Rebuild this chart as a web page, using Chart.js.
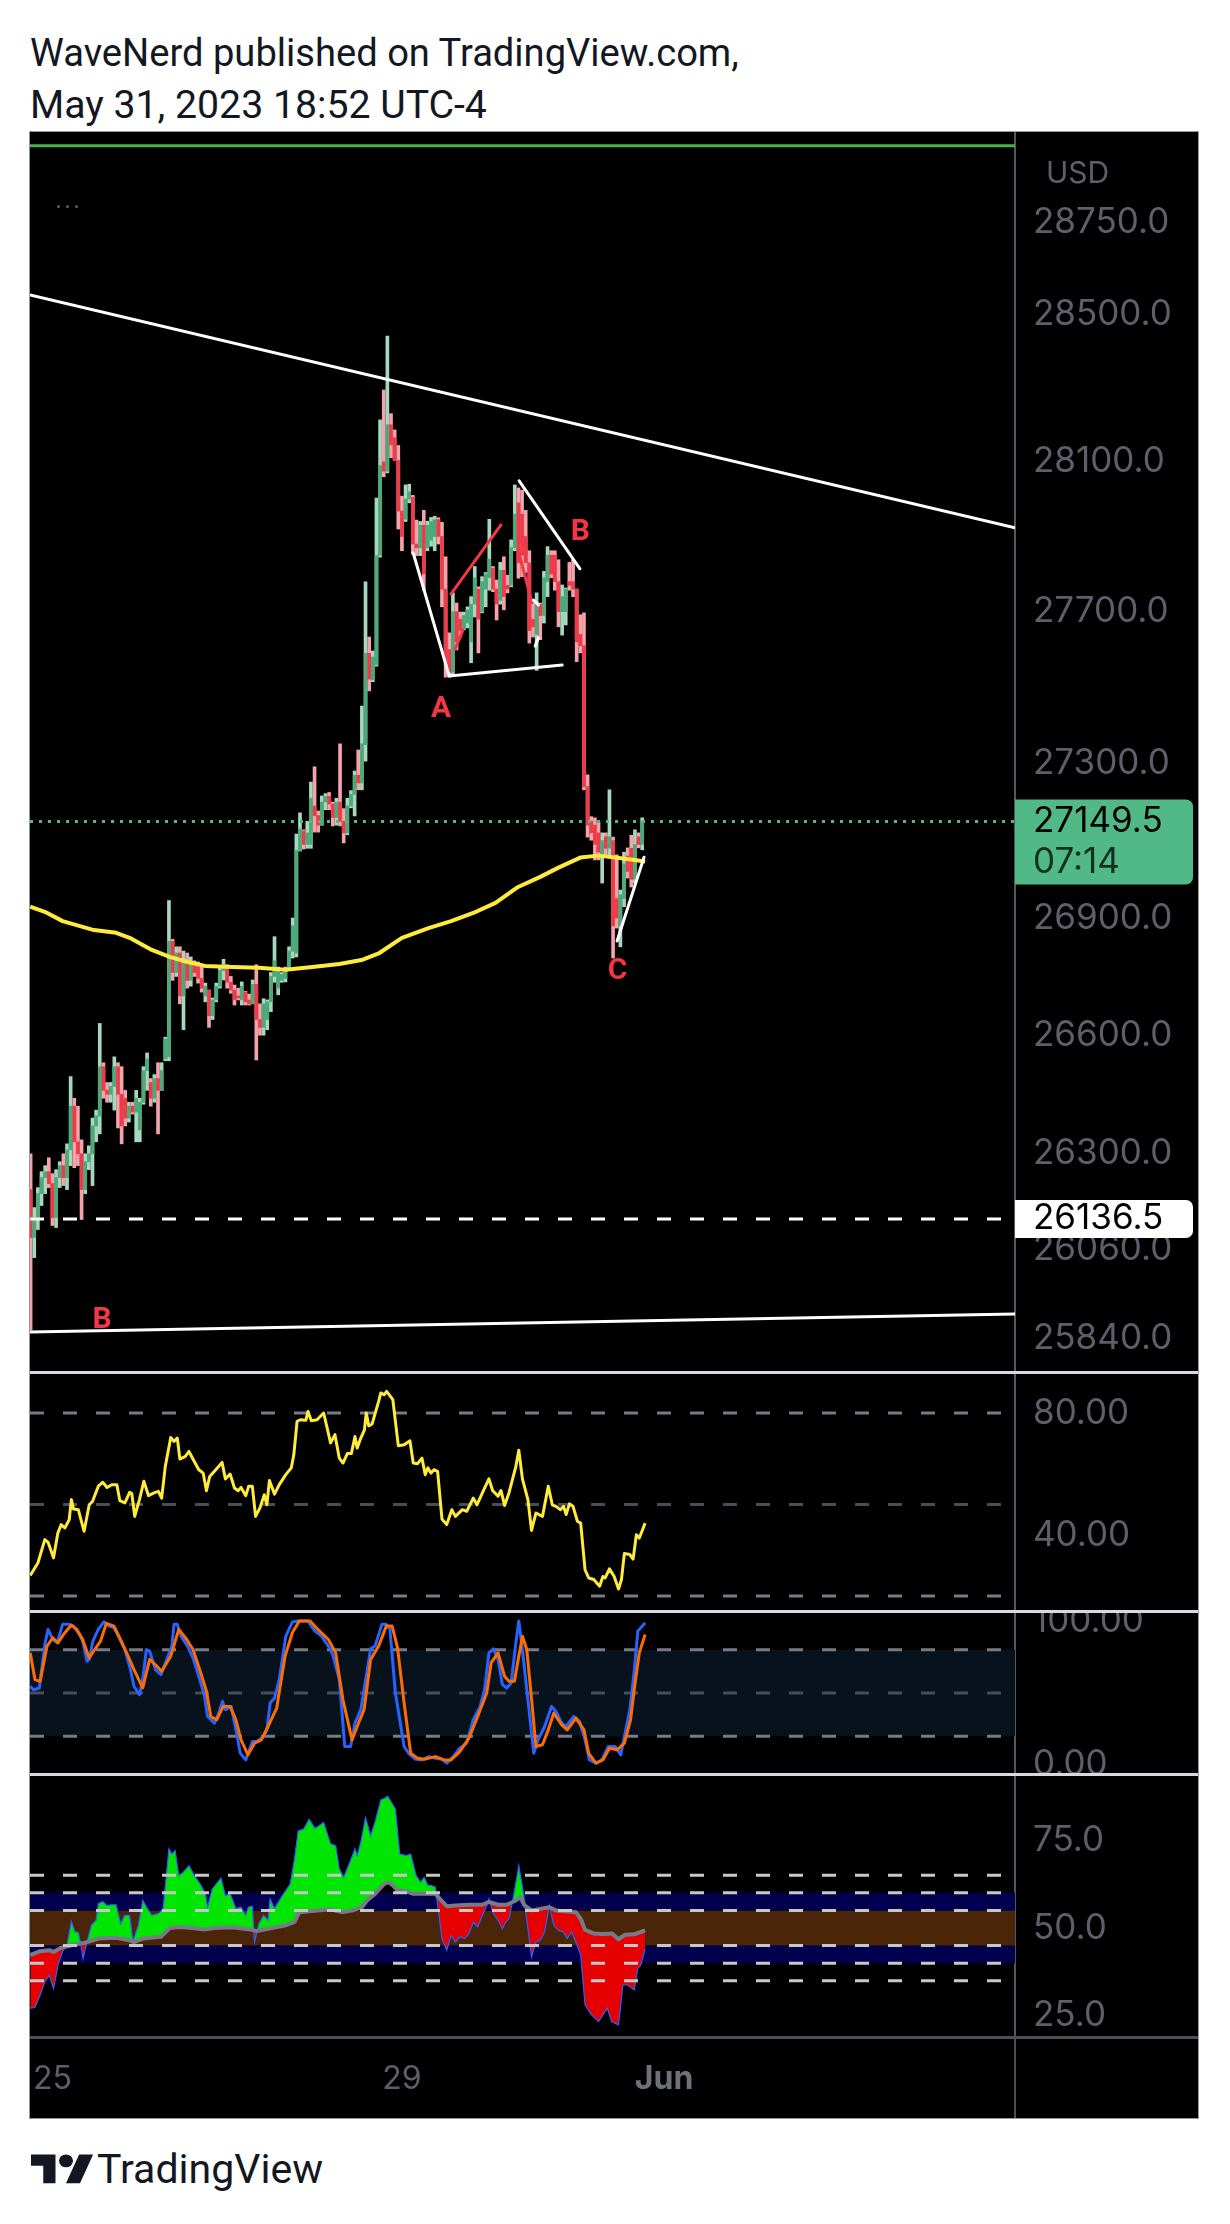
<!DOCTYPE html>
<html>
<head>
<meta charset="utf-8">
<title>BTCUSD 1h - WaveNerd</title>
<script src="https://cdn.jsdelivr.net/npm/chart.js@4.4.0/dist/chart.umd.min.js"></script>
<style>
  html, body { margin:0; padding:0; background:#fff; }
  body { width:1230px; height:2224px; position:relative; overflow:hidden; font-family:Roboto, sans-serif; color:#131722; }
  .hdr { position:absolute; left:30px; font-size:35px; line-height:40px; white-space:nowrap; }
  #frame { position:absolute; left:30px; top:132px; width:1168px; height:1986px; background:#d6d9e0; outline:1px solid #9598a1; }
  #frame canvas { position:absolute; left:0; background:#000; }
  #usd { position:absolute; left:1016px; top:22px; font:30px Inter, sans-serif; line-height:36px; color:#5d606b; }
  #dots { position:absolute; left:27px; top:61px; }
  #dots span { display:inline-block; width:3px; height:3px; border-radius:2px; background:#5d606b; margin-right:6px; }
  #logo { position:absolute; left:31px; top:2146px; height:46px; }
  #logo svg { position:absolute; left:0; top:2px; }
  #logo div { position:absolute; left:66px; top:0; font-size:39px; line-height:46px; white-space:nowrap; color:#131722; }
</style>
</head>
<body>
<div class="hdr" id="h1" style="top:33px">WaveNerd published on TradingView.com,</div>
<div class="hdr" id="h2" style="top:85px">May 31, 2023 18:52 UTC-4</div>

<div id="frame">
  <canvas id="cPrice" width="1168" height="1239" style="top:0"></canvas>
  <canvas id="cRsi" width="1168" height="236" style="top:1242px"></canvas>
  <canvas id="cStoch" width="1168" height="160" style="top:1481px"></canvas>
  <canvas id="cOsc" width="1168" height="342" style="top:1644px"></canvas>
  <div id="usd">USD</div>
  <div id="dots"><span></span><span></span><span></span></div>
</div>

<div id="logo">
  <svg width="63" height="45" viewBox="0 0 36 28" preserveAspectRatio="none">
    <path fill="#131722" d="M14 22H7V11H0V4h14v18zM28 22h-8l7.5-18h8L28 22z"/>
    <circle fill="#131722" cx="20" cy="8" r="4"/>
  </svg>
  <div id="tvtext">TradingView</div>
</div>

<script>
// BTCUSD 1h candles, index 0 = May 24 18:00 ... 168 = May 31 18:00 (UTC-4)
const opens = [
  26210,26090,26140,26200,26240,26255,26225,26140,26240,26270,
  26240,26310,26420,26330,26300,26210,26280,26300,26370,26395,
  26520,26460,26450,26470,26520,26450,26440,26390,26420,26405,
  26360,26430,26510,26480,26440,26490,26460,26540,26545,26840,
  26760,26810,26700,26790,26740,26780,26780,26745,26700,26715,
  26650,26690,26725,26765,26780,26735,26715,26700,26690,26710,
  26690,26680,26730,26640,26620,26640,26685,26750,26720,26740,
  26745,26770,26815,26810,27075,27125,27090,27090,27190,27165,
  27140,27200,27215,27195,27160,27200,27150,27120,27190,27220,
  27270,27250,27350,27590,27520,27560,27850,28100,28075,28200,
  28165,28104,27968,27946,28000,28005,27880,27870,27930,27870,
  27890,27900,27945,27900,27760,27600,27540,27700,27680,27655,
  27670,27620,27720,27760,27700,27760,27790,27815,27760,27730,
  27810,27770,27770,27870,27990,27960,27900,27830,27680,27640,
  27720,27690,27780,27850,27850,27780,27700,27700,27780,27780,
  27760,27640,27610,27240,27150,27140,27120,27060,27110,27080,
  27100,26950,26880,26950,27060,27080,27000,27110,27090
];
const highs = [
  26300,26165,26215,26255,26270,26290,26250,26260,26280,26300,
  26325,26495,26440,26420,26335,26300,26320,26390,26410,26630,
  26530,26480,26480,26545,26530,26520,26460,26430,26430,26460,
  26440,26520,26555,26490,26500,26530,26530,26595,26945,26845,
  26826,26826,26815,26810,26800,26790,26787,26776,26733,26715,
  26695,26733,26776,26794,26780,26750,26728,26720,26736,26712,
  26705,26741,26780,26680,26693,26690,26760,26852,26774,26760,
  26774,26826,26900,27117,27172,27128,27150,27252,27292,27177,
  27216,27222,27225,27200,27210,27352,27183,27210,27230,27281,
  27336,27451,27779,27633,27596,28003,28213,28294,28440,28230,
  28186,28144,28008,28038,28040,28010,27944,27940,27970,27941,
  27951,27954,27950,27938,27846,27644,27750,27723,27699,27699,
  27713,27740,27820,27766,27793,27804,27946,27820,27784,27831,
  27846,27797,27891,28038,28030,28024,27970,27862,27731,27750,
  27723,27807,27873,27862,27862,27838,27771,27763,27831,27838,
  27760,27692,27697,27271,27162,27159,27149,27120,27120,27232,
  27109,27063,26972,27070,27081,27114,27128,27120,27159
];
const lows = [
  25860,26040,26110,26170,26200,26215,26120,26115,26215,26220,
  26210,26270,26265,26270,26135,26200,26260,26220,26330,26350,
  26440,26430,26430,26410,26365,26325,26370,26380,26400,26330,
  26330,26425,26460,26420,26430,26350,26460,26535,26535,26740,
  26750,26680,26614,26720,26725,26750,26733,26710,26685,26620,
  26640,26685,26720,26741,26720,26707,26677,26690,26677,26677,
  26677,26680,26537,26600,26600,26614,26660,26735,26703,26735,
  26736,26767,26797,26800,27073,27078,27080,27080,27122,27122,
  27140,27180,27180,27138,27140,27138,27094,27115,27185,27164,
  27232,27232,27307,27491,27515,27556,27845,28060,28070,28111,
  28104,27920,27862,27940,27990,27853,27849,27849,27757,27862,
  27874,27862,27880,27713,27527,27527,27532,27599,27633,27652,
  27657,27565,27686,27591,27697,27713,27757,27753,27678,27720,
  27705,27750,27766,27862,27789,27793,27804,27617,27633,27545,
  27626,27670,27740,27790,27757,27660,27638,27665,27757,27740,
  27568,27591,27232,27109,27101,27050,27050,26990,27058,27058,
  26797,26874,26826,26929,27003,26980,26990,27081,27076
];
const closes = [
  26090,26140,26200,26240,26255,26225,26140,26240,26270,26240,
  26310,26420,26330,26300,26210,26280,26300,26370,26395,26520,
  26460,26450,26470,26520,26450,26370,26390,26420,26405,26440,
  26430,26510,26540,26440,26490,26460,26510,26590,26840,26760,
  26810,26700,26790,26740,26780,26760,26745,26720,26725,26650,
  26690,26725,26765,26780,26735,26715,26690,26695,26725,26685,
  26680,26730,26640,26620,26680,26685,26750,26790,26765,26755,
  26770,26815,26880,27075,27130,27090,27120,27210,27165,27140,
  27200,27215,27195,27160,27200,27150,27120,27190,27220,27270,
  27250,27352,27590,27522,27580,27849,28090,28075,28200,28146,
  28104,27968,27900,28000,28020,27880,27870,27930,27800,27930,
  27940,27945,27900,27760,27560,27540,27700,27620,27650,27690,
  27705,27720,27790,27680,27780,27800,27840,27760,27720,27810,
  27740,27760,27870,27960,27830,27850,27830,27650,27660,27720,
  27690,27790,27850,27800,27780,27700,27740,27760,27770,27760,
  27620,27610,27240,27140,27120,27090,27070,27100,27080,27110,
  26880,26900,26960,27040,27020,27000,27090,27090,27149.5
];

// moving average: [bar index, price]
const maPts = [
  [-0.1,26929],[3.9,26916],[8.8,26892],[17.4,26869],[23.5,26862],[27.2,26849],[33.3,26818],
  [38.2,26800],[43.1,26787],[47.9,26777],[55.3,26774],[62.7,26772],[70,26767],[77.4,26774],
  [84.8,26782],[90.9,26792],[95.8,26810],[102,26849],[109.3,26874],[115.5,26892],[121.6,26913],
  [127.7,26939],[133.9,26980],[140,27006],[145,27030],[151,27056],[156,27061],[163.4,27053],[168.8,27046]
];

// drawings on the price pane: [bar index, price]
const trendUpper = [[-0.165,28552],[270.4,27923]];
const trendLower = [[-0.165,25855],[270.4,25900]];
const topLinePrice = 28963;
const wavesWhite = [
  [[105.1,27856],[115.0,27530],[146.0,27559]],
  [[134.2,28049],[150.9,27814]],
  [[138.1,27731],[139.5,27718]],
  [[138.6,27609],[139.5,27631]],
  [[161.1,26841],[168.5,27057]]
];
const wavesRed = [
  [[115.5,27747],[129.2,27931]],
  [[116.6,27601],[118.8,27652]],
  [[133.9,27865],[137.7,27724]]
];
const waveLabels = [
  {t:'A', i:112.75, p:27441},
  {t:'B', i:151.0, p:27910},
  {t:'C', i:161.2, p:26763},
  {t:'B', i:19.6, p:25885}
];
const lastPrice = 27149.5;
const countdown = '07:14';
const levelPrice = 26136.5;
const priceTicks = [28750, 28500, 28100, 27700, 27300, 26900, 26600, 26300, 26060, 25840];

// RSI pane
const rsiPts = [
  [-0.1,26.7],[2.0,30.8],[3.9,38.5],[4.8,37.6],[6.3,32.5],[7.5,40.7],[8.4,43.4],[9.4,42.3],[10.6,45.0],
  [11.2,51.6],[11.8,48.5],[13.1,48.3],[14.7,41.2],[16.1,49.9],[17.0,51.0],[18.6,56.0],[19.8,57.3],
  [21.0,55.6],[22.3,56.5],[23.7,56.5],[24.5,51.3],[25.9,50.5],[27.2,54.0],[27.8,53.6],[28.6,46.1],
  [29.9,51.6],[31.1,57.6],[32.4,52.9],[33.9,53.8],[35.1,54.3],[36.0,52.1],[37.0,62.5],[38.5,72.0],
  [39.4,70.7],[40.3,71.8],[41.0,64.9],[42.5,65.8],[43.5,67.4],[44.7,64.7],[46.2,61.4],[47.4,60.3],
  [48.3,54.5],[49.2,59.2],[50.5,60.9],[52.6,63.8],[53.5,58.4],[54.8,60.0],[56.0,55.4],[57.0,54.5],
  [57.8,55.6],[59.1,52.9],[59.9,56.0],[60.9,56.0],[61.8,46.1],[63.0,48.9],[64.2,53.2],[64.9,49.9],
  [65.6,57.9],[67.0,53.4],[68.3,56.5],[70.1,59.8],[71.6,62.0],[72.3,66.3],[73.2,77.3],[74.1,77.8],
  [75.6,77.6],[76.2,80.5],[77.1,77.5],[78.7,77.8],[80.5,80.0],[82.4,70.2],[83.6,72.9],[84.8,65.2],
  [85.8,63.6],[87.0,66.7],[88.1,66.7],[89.1,72.3],[89.7,68.5],[90.7,71.8],[91.7,74.5],[92.2,80.0],
  [92.9,75.8],[93.8,76.4],[95.6,83.8],[96.2,86.6],[97.1,86.0],[97.8,87.1],[99.5,84.4],[101.0,69.3],
  [102.6,69.6],[104.2,70.9],[105.1,63.6],[106.3,63.4],[107.5,65.2],[108.4,59.8],[109.1,62.0],
  [110.0,60.3],[110.8,61.4],[111.8,60.9],[113.0,45.2],[114.3,43.4],[115.7,48.3],[116.7,46.1],
  [118.6,48.3],[119.8,47.8],[121.6,52.1],[122.6,49.9],[124.7,55.4],[125.9,58.4],[126.9,54.6],
  [128.4,52.7],[129.2,54.6],[130.2,49.7],[131.4,53.8],[133.3,62.5],[134.1,67.8],[135.1,58.4],
  [136.6,51.6],[137.6,41.5],[138.8,47.2],[140.6,46.1],[142.2,56.0],[143.3,49.9],[144.3,49.4],
  [145.5,48.3],[146.4,49.4],[147.1,46.7],[148.0,50.2],[149.0,49.4],[150.2,44.5],[151.1,43.9],
  [152.3,28.6],[153.3,25.9],[154.7,25.4],[156.3,23.2],[157.2,26.4],[157.8,25.9],[159.0,28.9],
  [160.3,26.4],[161.5,22.3],[162.3,25.4],[163.1,33.9],[164.6,33.6],[165.5,32.1],[166.4,40.1],
  [167.2,39.0],[168.8,43.9]
];
const rsiLevels = [80, 50, 20];
const rsiTicks = [80, 40];

// Stoch RSI pane
const stochK = [
  [-0.1,54.7],[0.8,52.3],[2.4,53.5],[3.9,83.7],[4.8,94.2],[6.1,87.2],[7.3,84.9],[8.8,97.7],[10.6,97.7],
  [11.8,96.5],[13.4,90.7],[14.3,86.0],[15.5,72.1],[16.1,73.3],[17.1,86.0],[18.6,94.2],[20.1,99.5],
  [21.6,96.5],[22.9,95.3],[24.1,89.5],[25.9,80.2],[27.2,68.6],[28.4,54.7],[29.9,48.8],[30.8,59.3],
  [31.8,80.2],[32.7,79.1],[34.3,66.3],[35.8,62.8],[37.6,74.4],[38.8,82.6],[39.4,97.7],[40.3,97.7],
  [41.3,89.5],[43.1,82.6],[44.6,74.4],[46.2,61.6],[47.8,47.7],[48.6,33.7],[50.5,29.1],[51.7,36.0],
  [52.7,44.2],[53.5,38.4],[55.1,40.7],[56.4,24.4],[57.6,8.1],[59.1,3.5],[60.9,16.3],[62.1,16.3],
  [64.0,19.8],[64.9,24.4],[65.8,43.0],[67.0,46.5],[68.3,59.3],[70.1,89.5],[71.9,99.3],[73.2,100],
  [76.2,100],[78.1,93.0],[79.9,89.5],[81.8,82.6],[83.0,76.7],[84.8,59.3],[86.3,12.8],[87.9,12.8],
  [89.1,29.1],[90.7,38.4],[92.2,61.6],[93.4,80.7],[94.6,82.6],[96.5,97.7],[97.7,97.7],[98.7,94.2],
  [100.2,50.0],[101.4,31.4],[102.6,12.8],[103.8,8.1],[105.7,4.0],[107.5,3.5],[109.4,5.8],[111.2,4.7],
  [113.0,4.0],[114.3,1.2],[116.1,5.8],[117.9,11.6],[119.8,15.1],[121.6,31.4],[123.5,40.7],[124.7,52.3],
  [125.9,77.9],[127.1,80.7],[128.4,73.3],[129.6,55.8],[130.8,53.5],[132.0,57.0],[133.3,84.9],[134.1,100],
  [135.1,79.8],[136.9,38.4],[138.2,8.1],[139.4,17.4],[141.2,26.7],[143.1,40.7],[144.3,37.2],[145.9,29.1],
  [147.1,26.7],[149.2,33.7],[150.8,30.2],[152.3,17.4],[153.5,3.5],[155.3,1.2],[156.9,3.5],[158.7,12.8],
  [160.6,12.8],[162.1,7.0],[163.3,22.1],[164.6,38.4],[165.8,65.1],[166.8,93.0],[168.8,98.8]
];
const stochD = [
  [-0.1,77.9],[1.2,59.3],[2.6,58.1],[4.5,82.6],[6.1,88.4],[7.5,84.9],[9.4,91.9],[11.2,97.2],[12.7,94.2],
  [14.3,87.2],[16.1,74.4],[17.6,80.2],[19.2,86.0],[20.8,98.4],[22.9,96.5],[24.7,87.2],[26.6,76.7],
  [28.4,66.3],[30.8,53.5],[32.7,73.3],[34.2,69.8],[36.0,65.1],[38.5,75.6],[40.7,94.2],[42.9,87.2],
  [44.6,80.2],[46.6,65.1],[48.3,51.2],[49.5,33.7],[51.1,31.4],[52.9,40.7],[54.8,40.7],[56.4,31.4],
  [57.8,17.4],[59.7,7.0],[61.5,15.1],[63.4,17.4],[65.2,26.7],[67.6,39.5],[69.9,75.6],[71.9,91.9],
  [73.8,100],[76.8,100],[78.9,94.2],[81.8,87.2],[83.8,77.9],[85.8,45.3],[88.3,17.4],[89.7,26.7],
  [91.6,38.4],[93.4,73.3],[95.6,82.6],[97.7,96.5],[99.3,96.5],[100.8,81.4],[102.6,43.0],[104.4,8.1],
  [106.3,4.7],[108.1,4.0],[111.2,5.8],[113.6,3.5],[115.5,3.5],[117.9,9.3],[120.4,18.6],[122.8,33.7],
  [125.3,50.0],[126.5,70.9],[128.4,77.9],[130.2,61.6],[131.4,58.1],[132.9,58.1],[134.1,75.6],
  [135.1,89.5],[136.3,80.2],[137.8,40.7],[138.8,12.8],[140.6,14.0],[142.2,24.4],[143.7,36.0],
  [145.9,27.9],[147.4,24.4],[149.8,32.6],[152.0,24.4],[153.3,8.1],[155.3,1.2],[157.2,3.5],[159.0,11.6],
  [161.1,10.5],[163.1,15.1],[164.8,31.4],[165.8,52.3],[167.2,77.9],[168.8,90.7]
];
const stochLevels = [80, 50, 20];
const stochTicks = [100, 0];

// bottom oscillator pane and its signal line
const oscPts = [
  [-0.1,27.2],[1.2,27.4],[2.6,30.9],[3.9,34.7],[5.1,36.6],[6.3,32.8],[7.5,39.4],[8.8,43.4],[10.0,45.1],
  [11.2,51.9],[12.2,48.9],[13.1,48.7],[13.7,46.0],[14.4,41.3],[15.5,46.0],[16.7,50.8],[18.0,52.2],
  [18.6,56.9],[19.8,57.5],[21.0,56.4],[22.3,56.6],[23.5,56.6],[24.7,51.2],[25.9,53.6],[27.2,53.6],
  [28.1,46.2],[29.6,50.8],[30.8,57.8],[32.1,55.5],[33.3,53.6],[35.1,54.1],[36.4,55.5],[38.0,72.5],
  [38.8,71.0],[39.7,72.0],[40.7,64.9],[41.9,65.8],[43.5,67.7],[45.0,64.9],[46.8,62.1],[48.0,59.7],
  [48.6,55.9],[49.9,61.1],[52.3,64.2],[53.5,59.2],[54.8,59.7],[56.4,55.5],[57.8,55.9],[59.1,53.6],
  [59.8,55.9],[60.9,56.2],[61.5,46.0],[62.7,51.2],[64.0,53.6],[65.2,52.2],[65.8,58.3],[67.0,55.5],
  [68.9,58.8],[71.3,62.5],[72.5,69.6],[73.5,77.6],[75.0,78.1],[76.5,80.9],[78.1,78.3],[80.5,80.0],
  [82.4,73.9],[83.8,73.4],[84.8,66.8],[86.0,64.4],[87.9,69.2],[89.1,72.5],[89.7,70.6],[90.7,74.3],
  [92.0,81.4],[93.4,76.2],[94.6,80.0],[96.2,86.4],[97.1,86.8],[98.1,87.4],[98.9,86.1],[100.2,83.8],
  [101.4,71.0],[103.2,70.6],[104.4,71.0],[105.9,64.9],[107.1,63.0],[108.1,64.4],[109.1,62.1],
  [110.0,62.1],[111.2,61.6],[113.0,47.0],[114.3,43.7],[115.5,47.9],[116.7,46.0],[117.9,47.5],
  [119.2,47.0],[120.4,48.4],[121.6,51.7],[122.8,50.3],[124.1,53.6],[125.3,56.4],[125.9,58.3],
  [127.1,54.1],[128.4,52.2],[129.6,49.8],[130.5,51.7],[131.4,52.6],[132.7,59.2],[134.1,67.7],
  [135.4,59.7],[136.6,49.8],[137.6,41.8],[138.8,46.0],[140.0,46.5],[141.2,48.9],[142.5,56.4],
  [143.7,50.8],[145.0,49.3],[146.4,48.9],[147.4,47.0],[148.6,48.9],[149.8,46.0],[151.1,42.3],
  [152.3,28.1],[154.1,25.3],[156.0,23.4],[157.2,25.3],[158.4,27.2],[159.6,23.4],[161.5,22.5],
  [162.7,33.8],[164.0,33.8],[165.8,32.4],[166.8,38.5],[167.6,39.4],[168.8,44.0]
];
const oscMaPts = [
  [-0.1,42.3],[2.6,43.4],[5.1,43.7],[6.3,43.2],[8.2,44.3],[11.2,45.1],[14.9,45.8],[18.6,47.0],
  [23.5,47.2],[27.2,46.5],[28.4,46.0],[30.8,47.0],[35.8,47.5],[38.2,50.0],[40.7,50.3],[44.3,50.0],
  [48.0,49.6],[50.5,50.0],[55.4,50.2],[60.3,49.6],[62.1,49.1],[65.2,49.8],[70.1,50.8],[72.5,51.7],
  [73.8,54.5],[78.7,55.0],[82.4,55.3],[85.4,54.5],[88.5,55.0],[91.0,55.9],[92.4,57.8],[94.6,59.7],
  [97.1,62.5],[98.3,63.0],[99.5,62.1],[100.8,60.7],[103.2,60.4],[105.1,59.7],[109.4,59.7],
  [111.2,59.7],[112.4,58.3],[114.3,56.2],[116.7,56.4],[120.4,56.6],[124.1,56.6],[125.9,57.4],
  [128.4,56.6],[130.8,56.6],[133.3,57.8],[134.5,58.8],[135.7,56.4],[137.6,55.0],[142.5,55.9],
  [144.3,55.0],[149.8,54.5],[151.1,52.6],[152.3,49.5],[154.7,48.4],[157.2,48.3],[159.7,48.4],
  [161.5,46.8],[163.3,48.1],[165.8,48.2],[168.8,49.3]
];
const oscLevels = [65, 60, 55, 45, 40, 35];
const oscBandEdges = [60, 55, 45, 40];
const oscBandColors = ['#00004f', '#4a2508', '#00004f'];
const oscTicks = [75, 50, 25];

const timeTicks = [6, 102, 174];
const timeLabels = ['25', '29', 'Jun'];

// ---- layout constants ----
const X_MIN = -0.165, X_MAX = 270.4;
const AXIS_W = 183;
const FONT = 'Inter, "DejaVu Sans", sans-serif';
const AX_COLOR = '#5d606b';
const DASH = [14, 19];

const toXY = pts => pts.map(p => ({x: p[0], y: p[1]}));

function hline(v, color, width, dash, order) {
  return {type:'line', data:[{x:X_MIN, y:v}, {x:X_MAX, y:v}], borderColor:color, borderWidth:width,
    borderDash:dash, pointRadius:0, fill:false, order:order};
}
function seg(pts, color, width, order) {
  return {type:'line', data:toXY(pts), borderColor:color, borderWidth:width, pointRadius:0,
    fill:false, order:order, borderCapStyle:'round', borderJoinStyle:'round'};
}

function rightAxis(min, max, ticks, digits, type) {
  return {
    type: type || 'linear', position:'right', min:min, max:max, bounds:'data',
    grid:{display:false, drawTicks:false},
    border:{display:true, color:'#55575e', width:2},
    ticks:{autoSkip:false, padding:18, color:AX_COLOR, font:{family:FONT, size:35},
      callback: v => Number(v).toFixed(digits)},
    afterBuildTicks: s => { s.ticks = ticks.map(v => ({value:v})); },
    afterFit: s => { s.width = AXIS_W; s.paddingTop = 0; s.paddingBottom = 0; }
  };
}
function hiddenX() {
  return {type:'linear', min:X_MIN, max:X_MAX, offset:false, display:false};
}
function baseOptions(yAxis, xAxis) {
  return {
    responsive:false, animation:false, devicePixelRatio:1, events:[],
    layout:{padding:0},
    plugins:{legend:{display:false}, tooltip:{enabled:false}},
    scales:{x:xAxis || hiddenX(), y:yAxis}
  };
}

// ---- price pane ----
const upCol = '#4ba97a', upWick = '#a6d8bd', dnCol = '#ef3a4a', dnWick = '#f5a3aa';
const isUp = closes.map((c, i) => c >= opens[i]);

const priceOverlay = {
  id:'priceOverlay',
  afterDraw(chart) {
    const {ctx, chartArea} = chart;
    const x = chart.scales.x, y = chart.scales.y;
    ctx.save();
    ctx.textBaseline = 'middle';
    ctx.textAlign = 'center';
    ctx.fillStyle = '#f23645';
    ctx.font = 'bold 30px Roboto, sans-serif';
    waveLabels.forEach(l => ctx.fillText(l.t, x.getPixelForValue(l.i), y.getPixelForValue(l.p)));

    const left = chartArea.right;
    ctx.textAlign = 'left';
    ctx.font = '35px ' + FONT;
    const yl = y.getPixelForValue(lastPrice);
    ctx.fillStyle = '#51b985';
    ctx.beginPath(); ctx.roundRect(left, yl - 22, 178, 85, [0, 7, 7, 0]); ctx.fill();
    ctx.fillStyle = '#000';
    ctx.fillText(lastPrice.toFixed(1), left + 18, yl);
    ctx.fillStyle = '#12301f';
    ctx.fillText(countdown, left + 18, yl + 41);

    const yv = y.getPixelForValue(levelPrice);
    ctx.fillStyle = '#fff';
    ctx.beginPath(); ctx.roundRect(left, yv - 19, 178, 38, [0, 7, 7, 0]); ctx.fill();
    ctx.fillStyle = '#000';
    ctx.fillText(levelPrice.toFixed(1), left + 18, yv);
    ctx.restore();
  }
};

const priceSets = [
  {type:'bar', data:opens.map((o, i) => ({x:i, y:[lows[i], highs[i]]})),
    backgroundColor:isUp.map(u => u ? upWick : dnWick), barThickness:3, grouped:false, order:10},
  {type:'bar', data:opens.map((o, i) => ({x:i, y:[o, closes[i]]})),
    backgroundColor:isUp.map(u => u ? upCol : dnCol), barThickness:3, grouped:false, minBarLength:1, order:9},
  {type:'line', data:toXY(maPts), borderColor:'#ffeb3b', borderWidth:4, pointRadius:0, fill:false, order:5,
    borderJoinStyle:'round'},
  hline(lastPrice, '#51b985', 3, [3, 6], 7),
  hline(levelPrice, '#ffffff', 3, DASH, 7),
  hline(topLinePrice, '#4caf50', 3, [], 7),
  seg(trendUpper, '#ffffff', 3, 3),
  seg(trendLower, '#ffffff', 3, 3)
];
wavesWhite.forEach(w => priceSets.push(seg(w, '#ffffff', 3, 2)));
wavesRed.forEach(w => priceSets.push(seg(w, '#f23645', 3, 2)));

new Chart(document.getElementById('cPrice'), {
  type:'bar',
  data:{datasets:priceSets},
  options:baseOptions(rightAxis(25759, 29001, priceTicks, 1, 'logarithmic')),
  plugins:[priceOverlay]
});

// ---- RSI pane ----
new Chart(document.getElementById('cRsi'), {
  type:'line',
  data:{datasets:[
    hline(rsiLevels[0], '#787b86', 3, DASH, 5),
    hline(rsiLevels[1], '#4a4d56', 3, DASH, 5),
    hline(rsiLevels[2], '#787b86', 3, DASH, 5),
    {data:toXY(rsiPts), borderColor:'#ffeb3b', borderWidth:3, pointRadius:0, fill:false, order:1,
      borderJoinStyle:'round'}
  ]},
  options:baseOptions(rightAxis(15.4, 92.8, rsiTicks, 2))
});

// ---- Stoch RSI pane ----
new Chart(document.getElementById('cStoch'), {
  type:'line',
  data:{datasets:[
    {data:[{x:X_MIN, y:stochLevels[0]}, {x:X_MAX, y:stochLevels[0]}], borderWidth:0, pointRadius:0,
      fill:{target:1, above:'#07121c', below:'#07121c'}, order:20},
    {data:[{x:X_MIN, y:stochLevels[2]}, {x:X_MAX, y:stochLevels[2]}], borderWidth:0, pointRadius:0, fill:false, order:20},
    hline(stochLevels[0], '#787b86', 3, DASH, 6),
    hline(stochLevels[1], '#4a4d56', 3, DASH, 6),
    hline(stochLevels[2], '#787b86', 3, DASH, 6),
    {data:toXY(stochK), borderColor:'#2962ff', borderWidth:3, pointRadius:0, fill:false, order:2, borderJoinStyle:'round'},
    {data:toXY(stochD), borderColor:'#ff6d00', borderWidth:3, pointRadius:0, fill:false, order:1, borderJoinStyle:'round'}
  ]},
  options:baseOptions(rightAxis(-5.6, 105.6, stochTicks, 2))
});

// ---- bottom oscillator pane + time axis ----
const oscSets = [];
oscBandEdges.forEach((v, k) => {
  const col = oscBandColors[k];
  oscSets.push({data:[{x:X_MIN, y:v}, {x:X_MAX, y:v}], borderWidth:0, pointRadius:0,
    fill: col ? {target:k + 1, above:col, below:col} : false, order:20});
});
const maIndex = oscSets.length;
oscSets.push({data:toXY(oscMaPts), borderColor:'#787b86', borderWidth:4, pointRadius:0, fill:false, order:8,
  borderJoinStyle:'round'});
oscSets.push({data:toXY(oscPts), borderColor:'#2962ff', borderWidth:1.2, pointRadius:0, order:10,
  fill:{target:maIndex, above:'#00e600', below:'#e60000'}});
oscLevels.forEach(v => oscSets.push(hline(v, '#c8c8c8', 3, DASH, 2)));

const timeAxisFrame = {
  id:'timeAxisFrame',
  afterDraw(chart) {
    const {ctx, chartArea, width, height} = chart;
    ctx.save();
    ctx.fillStyle = '#4d4f55';
    ctx.fillRect(0, chartArea.bottom, width, 3);
    ctx.fillRect(chartArea.right - 1, chartArea.bottom, 2, height - chartArea.bottom);
    ctx.restore();
  }
};

new Chart(document.getElementById('cOsc'), {
  type:'line',
  data:{datasets:oscSets},
  options:baseOptions(rightAxis(19.3, 93.2, oscTicks, 1), {
    type:'linear', min:X_MIN, max:X_MAX, offset:false, position:'bottom',
    grid:{display:false, drawTicks:false}, border:{display:false},
    ticks:{autoSkip:false, maxRotation:0, padding:24,
      color: c => (c.tick && c.tick.value === 174) ? '#6f717a' : AX_COLOR,
      font: c => ({family:FONT, size:32, weight:(c.tick && c.tick.value === 174) ? 'bold' : 'normal'}),
      callback: v => { const k = timeTicks.indexOf(v); return k >= 0 ? timeLabels[k] : ''; }},
    afterBuildTicks: s => { s.ticks = timeTicks.map(v => ({value:v})); },
    afterFit: s => { s.height = 82; s.paddingLeft = 0; s.paddingRight = 0; }
  }),
  plugins:[timeAxisFrame]
});

// header / logo text widths
function fitWidth(id, target) {
  const el = document.getElementById(id);
  const w = el.getBoundingClientRect().width;
  const fs = parseFloat(getComputedStyle(el).fontSize);
  el.style.fontSize = (fs * target / w).toFixed(2) + 'px';
}
fitWidth('h1', 709);
fitWidth('h2', 457);
fitWidth('tvtext', 226);
</script>
</body>
</html>
